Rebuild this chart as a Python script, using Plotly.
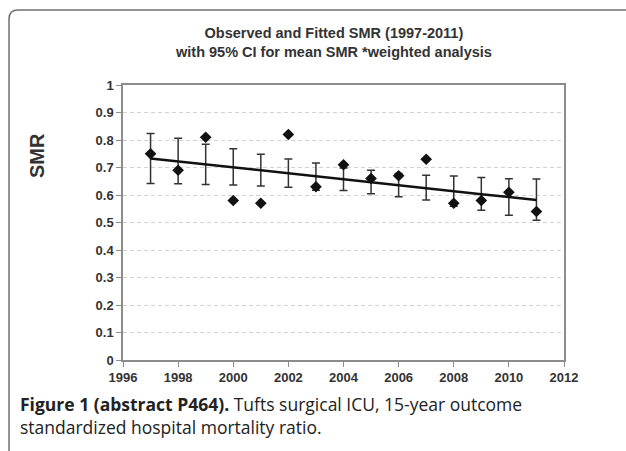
import plotly.graph_objects as go

# Yearly SMR values
years = [1997, 1998, 1999, 2000, 2001, 2002, 2003, 2004, 2005, 2006, 2007, 2008, 2009, 2010, 2011]
smr_observed = [0.75, 0.69, 0.81, 0.58, 0.57, 0.82, 0.63, 0.71, 0.66, 0.67, 0.73, 0.57, 0.58, 0.61, 0.54]
smr_fitted = [0.733, 0.722, 0.711, 0.701, 0.690, 0.679, 0.668, 0.657, 0.647, 0.636, 0.625, 0.614, 0.603, 0.593, 0.582]
ci_lower = [0.642, 0.641, 0.638, 0.636, 0.633, 0.628, 0.617, 0.616, 0.605, 0.594, 0.582, 0.559, 0.545, 0.526, 0.508]
ci_upper = [0.824, 0.806, 0.785, 0.768, 0.748, 0.731, 0.716, 0.698, 0.690, 0.678, 0.672, 0.669, 0.664, 0.659, 0.658]

x_ticks = [1996, 1998, 2000, 2002, 2004, 2006, 2008, 2010, 2012]
y_ticks = [0, 0.1, 0.2, 0.3, 0.4, 0.5, 0.6, 0.7, 0.8, 0.9, 1]
y_tick_text = ["0", "0.1", "0.2", "0.3", "0.4", "0.5", "0.6", "0.7", "0.8", "0.9", "1"]

W, H = 626, 451
L, R, T, B = 123, 62, 85, 91

err_plus = [u - f for u, f in zip(ci_upper, smr_fitted)]
err_minus = [f - l for f, l in zip(smr_fitted, ci_lower)]

fig = go.Figure()

# fitted line with 95% CI bars
fig.add_trace(go.Scatter(
    x=years, y=smr_fitted, mode="lines",
    line=dict(color="#111111", width=2.5),
    error_y=dict(type="data", symmetric=False, array=err_plus, arrayminus=err_minus,
                 color="#333333", thickness=1.5, width=4),
    showlegend=False, hoverinfo="skip",
))

# observed SMR
fig.add_trace(go.Scatter(
    x=years, y=smr_observed, mode="markers",
    marker=dict(symbol="diamond", size=9, color="#111111"),
    showlegend=False,
))

def px_x(p):
    return (p - L) / (W - L - R)

def px_y(p):
    return (H - B - p) / (H - T - B)

# outer rounded frame (top and left edges)
x0, y0, r = 9, 10, 9
x_end, y_end = 626, 451
path = (f"M {px_x(x_end)} {px_y(y0)} L {px_x(x0 + r)} {px_y(y0)} "
        f"Q {px_x(x0)} {px_y(y0)} {px_x(x0)} {px_y(y0 + r)} "
        f"L {px_x(x0)} {px_y(y_end)}")
fig.add_shape(type="path", path=path, xref="paper", yref="paper",
              line=dict(color="#707070", width=1.5), layer="below")

# chart title
fig.add_annotation(
    text="<b>Observed and Fitted SMR (1997-2011)<br>with 95% CI for mean SMR *weighted analysis</b>",
    xref="paper", yref="paper", x=px_x(333), y=px_y(42),
    xanchor="center", yanchor="middle", showarrow=False,
    font=dict(family="Liberation Sans, Arial, sans-serif", size=14.5, color="#333333"),
    align="center",
)

# y-axis title
fig.add_annotation(
    text="<b>SMR</b>", xref="paper", yref="paper", x=px_x(37), y=px_y(156),
    xanchor="center", yanchor="middle", showarrow=False, textangle=-90,
    font=dict(family="Liberation Sans, Arial, sans-serif", size=20, color="#333333"),
)

# caption
fig.add_annotation(
    text="<b>Figure 1 (abstract P464).</b> Tufts surgical ICU, 15-year outcome<br>standardized hospital mortality ratio.",
    xref="paper", yref="paper", x=px_x(18), y=px_y(415),
    xanchor="left", yanchor="middle", showarrow=False, align="left",
    font=dict(family="Open Sans, sans-serif", size=17.5, color="#222222"),
)

tick_font = dict(family="Liberation Sans, Arial, sans-serif", size=13, color="#333333")

fig.update_layout(
    width=W, height=H, autosize=False,
    margin=dict(l=L, r=R, t=T, b=B),
    paper_bgcolor="white", plot_bgcolor="white",
    xaxis=dict(
        range=[1996, 2012], tickmode="array", tickvals=x_ticks,
        ticktext=[f"<b>{v}</b>" for v in x_ticks],
        showgrid=False, zeroline=False,
        showline=True, linecolor="#8c8c8c", linewidth=1.5, mirror=True,
        ticks="outside", ticklen=5, tickcolor="#8c8c8c", tickfont=tick_font,
    ),
    yaxis=dict(
        range=[0, 1], tickmode="array", tickvals=y_ticks,
        ticktext=[f"<b>{t}</b>" for t in y_tick_text],
        showgrid=True, gridcolor="#d2d2d2", griddash="4px,3px", gridwidth=1,
        zeroline=False,
        showline=True, linecolor="#8c8c8c", linewidth=1.5, mirror=True,
        ticks="outside", ticklen=5, tickcolor="#8c8c8c", tickfont=tick_font,
    ),
)

fig.write_html("out.html")
